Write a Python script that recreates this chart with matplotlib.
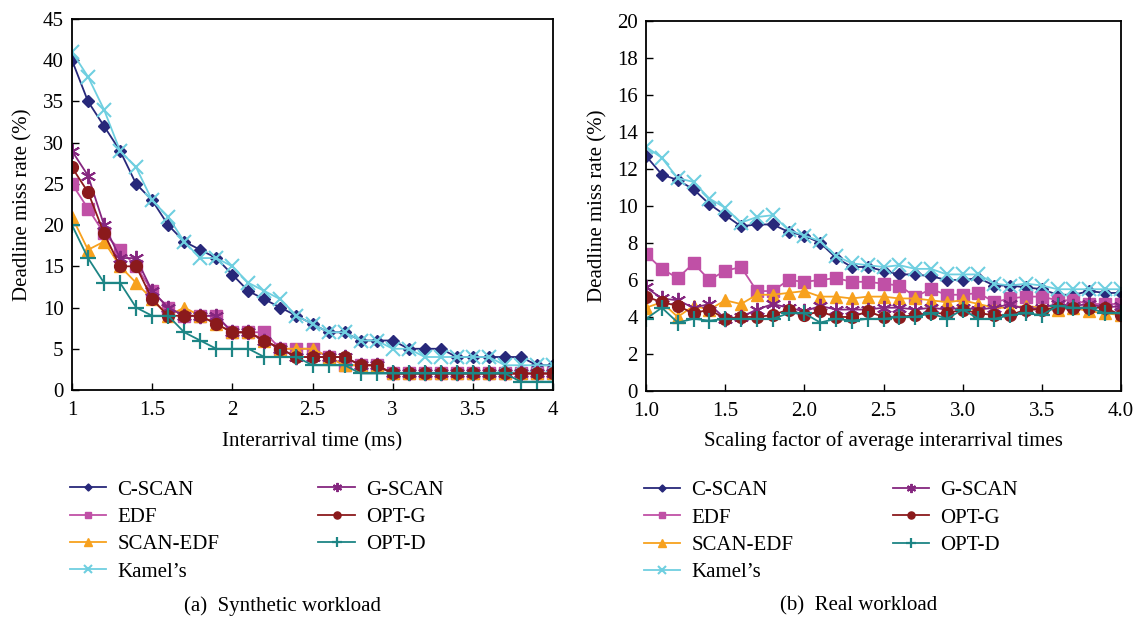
import matplotlib
matplotlib.use("Agg")
import matplotlib.pyplot as plt

plt.rcParams['font.family'] = ['Liberation Serif', 'DejaVu Serif']
plt.rcParams['font.size'] = 15

x_vals = [1.0, 1.1, 1.2, 1.3, 1.4, 1.5, 1.6, 1.7, 1.8, 1.9, 2.0, 2.1, 2.2, 2.3, 2.4, 2.5,
          2.6, 2.7, 2.8, 2.9, 3.0, 3.1, 3.2, 3.3, 3.4, 3.5, 3.6, 3.7, 3.8, 3.9, 4.0]

series_names = ["C-SCAN", "EDF", "SCAN-EDF", "Kamel’s", "G-SCAN", "OPT-G", "OPT-D"]

# (a) Synthetic workload
syn_cscan = [40, 35, 32, 29, 25, 23, 20, 18, 17, 16, 14, 12, 11, 10, 9, 8, 7, 7, 6, 6, 6, 5, 5, 5, 4, 4, 4, 4, 4, 3, 3]
syn_edf = [25, 22, 19, 17, 15, 12, 10, 9, 9, 9, 7, 7, 7, 5, 5, 5, 4, 3, 3, 3, 2, 2, 2, 2, 2, 2, 2, 2, 2, 2, 2]
syn_scanedf = [21, 17, 18, 15, 13, 11, 9, 10, 9, 8, 7, 7, 6, 5, 5, 5, 4, 3, 3, 3, 2, 2, 2, 2, 2, 2, 2, 2, 2, 2, 2]
syn_kamel = [41, 38, 34, 29, 27, 23, 21, 18, 16, 16, 15, 13, 12, 11, 9, 8, 7, 7, 6, 6, 5, 5, 4, 4, 4, 4, 4, 3, 3, 3, 3]
syn_gscan = [29, 26, 20, 16, 16, 12, 10, 9, 9, 9, 7, 7, 6, 5, 4, 4, 4, 4, 3, 3, 2, 2, 2, 2, 2, 2, 2, 2, 2, 2, 2]
syn_optg = [27, 24, 19, 15, 15, 11, 9, 9, 9, 8, 7, 7, 6, 5, 4, 4, 4, 4, 3, 3, 2, 2, 2, 2, 2, 2, 2, 2, 2, 2, 2]
syn_optd = [20, 16, 13, 13, 10, 9, 9, 7, 6, 5, 5, 5, 4, 4, 4, 3, 3, 3, 2, 2, 2, 2, 2, 2, 2, 2, 2, 2, 1, 1, 1]

# (b) Real workload
real_cscan = [12.7, 11.7, 11.4, 10.9, 10.1, 9.5, 8.9, 9.0, 9.0, 8.6, 8.4, 8.0, 7.2, 6.7, 6.7, 6.5,
              6.3, 6.3, 6.2, 6.0, 6.0, 6.1, 5.7, 5.7, 5.6, 5.5, 5.2, 5.2, 5.4, 5.3, 5.3]
real_edf = [7.4, 6.6, 6.1, 6.9, 6.0, 6.5, 6.7, 5.4, 5.4, 6.0, 5.9, 6.0, 6.1, 5.9, 5.9, 5.8,
            5.7, 5.1, 5.5, 5.2, 5.2, 5.3, 4.8, 5.0, 5.1, 5.1, 4.9, 4.9, 4.7, 4.7, 4.7]
real_scanedf = [4.5, 4.8, 4.0, 4.6, 4.4, 4.9, 4.7, 5.2, 5.2, 5.3, 5.4, 5.1, 5.1, 5.0, 5.1, 5.1,
                5.0, 5.0, 4.9, 4.8, 4.9, 4.7, 4.5, 4.5, 4.6, 4.5, 4.4, 4.5, 4.3, 4.2, 4.1]
real_kamel = [13.2, 12.6, 11.5, 11.3, 10.4, 9.9, 9.1, 9.4, 9.5, 8.7, 8.4, 8.1, 7.3, 6.9, 6.8, 6.7,
              6.8, 6.6, 6.6, 6.3, 6.3, 6.3, 5.8, 5.7, 5.8, 5.7, 5.5, 5.5, 5.5, 5.5, 5.5]
real_gscan = [5.6, 5.0, 4.9, 4.5, 4.7, 3.9, 4.0, 4.4, 4.7, 4.5, 4.3, 4.6, 4.4, 4.4, 4.4, 4.5,
              4.5, 4.4, 4.5, 4.4, 4.5, 4.4, 4.5, 4.7, 4.4, 4.5, 4.7, 4.6, 4.7, 4.5, 4.6]
real_optg = [5.1, 4.8, 4.6, 4.2, 4.4, 3.9, 4.0, 4.0, 4.1, 4.4, 4.1, 4.3, 4.0, 4.0, 4.3, 4.0,
             4.0, 4.1, 4.2, 4.2, 4.4, 4.2, 4.1, 4.1, 4.4, 4.4, 4.5, 4.5, 4.5, 4.5, 4.1]
real_optd = [3.9, 4.5, 3.7, 3.9, 3.8, 3.9, 3.9, 3.9, 3.9, 4.2, 4.2, 3.7, 3.9, 3.8, 3.9, 3.9,
             4.0, 4.0, 4.2, 3.9, 4.4, 3.9, 3.9, 4.1, 4.2, 4.1, 4.6, 4.5, 4.5, 4.2, 4.2]

left_xticks = [1, 1.5, 2, 2.5, 3, 3.5, 4]
left_xticklabels = ["1", "1.5", "2", "2.5", "3", "3.5", "4"]
left_yticks = [0, 5, 10, 15, 20, 25, 30, 35, 40, 45]
right_xticks = [1.0, 1.5, 2.0, 2.5, 3.0, 3.5, 4.0]
right_xticklabels = ["1.0", "1.5", "2.0", "2.5", "3.0", "3.5", "4.0"]
right_yticks = [0, 2, 4, 6, 8, 10, 12, 14, 16, 18, 20]

styles = [
    dict(color="#27287a", marker="D", ms=6),
    dict(color="#c050a6", marker="s", ms=8),
    dict(color="#f7a11e", marker="^", ms=8.5),
    dict(color="#6fcfe0", marker="x", ms=10, mew=1.5),
    dict(color="#85267f", marker=(6, 2, 0), ms=11, mew=1.4),
    dict(color="#8b1a1c", marker="o", ms=8.5),
    dict(color="#1d8585", marker="+", ms=11, mew=1.6),
]

fig = plt.figure(figsize=(11.37, 6.2), dpi=100)
axL = fig.add_axes([0.0633, 0.371, 0.4231, 0.5984])
axR = fig.add_axes([0.5682, 0.3694, 0.4177, 0.5968])

syn = [syn_cscan, syn_edf, syn_scanedf, syn_kamel, syn_gscan, syn_optg, syn_optd]
real = [real_cscan, real_edf, real_scanedf, real_kamel, real_gscan, real_optg, real_optd]

for ax, data in ((axL, syn), (axR, real)):
    for name, vals, st in zip(series_names, data, styles):
        ax.plot(x_vals, vals, label=name, lw=1.3, **st)
    ax.tick_params(direction="in", length=5, width=1, top=False, right=False, labelsize=15, pad=6)
    ax.tick_params(axis="x", pad=8)
    for sp in ax.spines.values():
        sp.set_linewidth(1.3)
    ax.set_ylabel("Deadline miss rate (%)", fontsize=15, labelpad=7)
    ax.legend(loc="upper left", bbox_to_anchor=(-0.005, -0.243), ncol=2, frameon=False,
              fontsize=15, handlelength=1.75, handletextpad=0.55, columnspacing=4.75,
              labelspacing=0.37, markerscale=0.6, borderaxespad=0, borderpad=0)

axL.set_xlim(1, 4)
axL.set_ylim(0, 45)
axL.set_xticks(left_xticks)
axL.set_xticklabels(left_xticklabels)
axL.set_yticks(left_yticks)
axL.set_xlabel("Interarrival time (ms)", fontsize=15, labelpad=9)

axR.set_xlim(1, 4)
axR.set_ylim(0, 20)
axR.set_xticks(right_xticks)
axR.set_xticklabels(right_xticklabels)
axR.set_yticks(right_yticks)
axR.set_xlabel("Scaling factor of average interarrival times", fontsize=15, labelpad=7)

fig.text(282 / 1137, 1 - 606 / 620, "(a)  Synthetic workload", ha="center", va="center", fontsize=15)
fig.text(859 / 1137, 1 - 606 / 620, "(b)  Real workload", ha="center", va="center", fontsize=15)

fig.savefig("out.png", dpi=100)
